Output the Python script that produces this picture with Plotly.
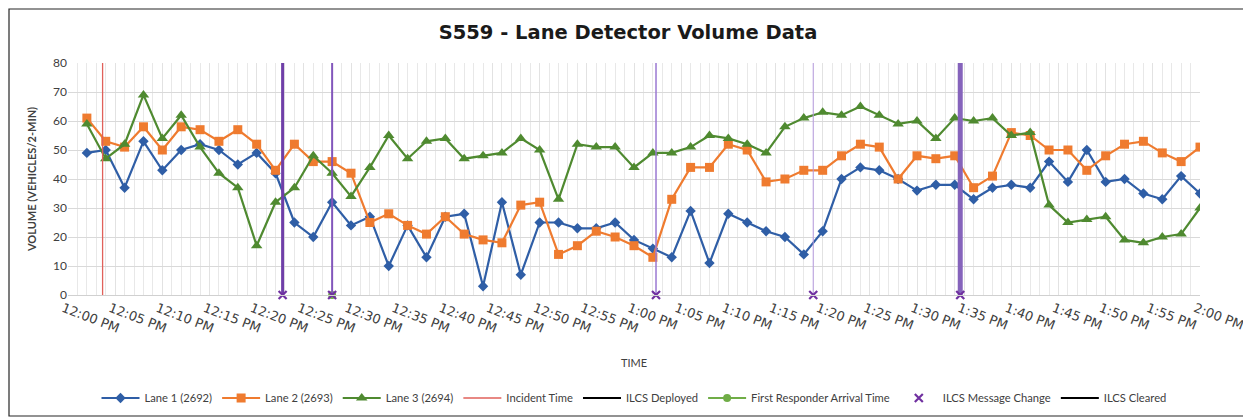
import plotly.graph_objects as go

# ---------------- data ----------------
DAY = "2020-01-01 "
TIMES = ["12:02", "12:04", "12:06", "12:08", "12:10", "12:12", "12:14", "12:16", "12:18", "12:20",
         "12:22", "12:24", "12:26", "12:28", "12:30", "12:32", "12:34", "12:36", "12:38", "12:40",
         "12:42", "12:44", "12:46", "12:48", "12:50", "12:52", "12:54", "12:56", "12:58", "13:00",
         "13:02", "13:04", "13:06", "13:08", "13:10", "13:12", "13:14", "13:16", "13:18", "13:20",
         "13:22", "13:24", "13:26", "13:28", "13:30", "13:32", "13:34", "13:36", "13:38", "13:40",
         "13:42", "13:44", "13:46", "13:48", "13:50", "13:52", "13:54", "13:56", "13:58", "14:00"]

LANE1 = [49, 50, 37, 53, 43, 50, 52, 50, 45, 49, 42, 25, 20, 32,
         24, 27, 10, 24, 13, 27, 28, 3, 32, 7, 25, 25, 23, 23, 25, 19, 16,
         13, 29, 11, 28, 25, 22, 20, 14, 22, 40, 44, 43, 40, 36, 38, 38, 33,
         37, 38, 37, 46, 39, 50, 39, 40, 35, 33, 41, 35]
LANE2 = [61, 53, 51, 58, 50, 58, 57, 53, 57, 52, 43, 52, 46, 46,
         42, 25, 28, 24, 21, 27, 21, 19, 18, 31, 32, 14, 17, 22, 20, 17, 13,
         33, 44, 44, 52, 50, 39, 40, 43, 43, 48, 52, 51, 40, 48, 47, 48, 37,
         41, 56, 55, 50, 50, 43, 48, 52, 53, 49, 46, 51]
LANE3 = [59, 47, 52, 69, 54, 62, 51, 42, 37, 17, 32, 37, 48, 42,
         34, 44, 55, 47, 53, 54, 47, 48, 49, 54, 50, 33, 52, 51, 51, 44, 49,
         49, 51, 55, 54, 52, 49, 58, 61, 63, 62, 65, 62, 59, 60, 54, 61, 60,
         61, 55, 56, 31, 25, 26, 27, 19, 18, 20, 21, 30]

INCIDENT_TIME = "12:03:40"
FIRST_RESPONDER_TIME = "12:28:00"
MSG_CHANGE_TIMES = ["12:22:45", "12:28:00", "13:02:20", "13:19:00", "13:34:35"]

TICK_TIMES = ["12:00", "12:05", "12:10", "12:15", "12:20", "12:25", "12:30", "12:35", "12:40",
              "12:45", "12:50", "12:55", "13:00", "13:05", "13:10", "13:15", "13:20", "13:25",
              "13:30", "13:35", "13:40", "13:45", "13:50", "13:55", "14:00"]
TICK_TEXT = ["12:00 PM", "12:05 PM", "12:10 PM", "12:15 PM", "12:20 PM", "12:25 PM", "12:30 PM",
             "12:35 PM", "12:40 PM", "12:45 PM", "12:50 PM", "12:55 PM", "1:00 PM", "1:05 PM",
             "1:10 PM", "1:15 PM", "1:20 PM", "1:25 PM", "1:30 PM", "1:35 PM", "1:40 PM",
             "1:45 PM", "1:50 PM", "1:55 PM", "2:00 PM"]

# ---------------- styles ----------------
FONT = "Lato"
BLUE, ORANGE, GREEN = "#2f5ea6", "#ef7b2f", "#4f8a30"
MSG_STYLE = [("#6f3fa8", 3), ("#8256bb", 2), ("#9a78d2", 1.5), ("#b89be0", 1), ("#8563bb", 5)]

# page body has an 8px margin -> figure is 8px smaller so it fits the window
W, H = 1243, 411
PL, PT, PR, PB = 60, 55, 51, 124   # plot area: x 68..1200, y 63..295 in window pixels
PW, PH = W - PL - PR, H - PT - PB


def ts(t):
    return DAY + t


x = [ts(t) for t in TIMES]
fig = go.Figure()

fig.add_trace(go.Scatter(x=x, y=LANE1, name="Lane 1 (2692)", mode="lines+markers",
                         line=dict(color=BLUE, width=2.2),
                         marker=dict(symbol="diamond", size=8, color=BLUE)))
fig.add_trace(go.Scatter(x=x, y=LANE2, name="Lane 2 (2693)", mode="lines+markers",
                         line=dict(color=ORANGE, width=2.2),
                         marker=dict(symbol="square", size=9, color=ORANGE)))
fig.add_trace(go.Scatter(x=x, y=LANE3, name="Lane 3 (2694)", mode="lines+markers",
                         line=dict(color=GREEN, width=2.2),
                         marker=dict(symbol="triangle-up", size=10, color=GREEN)))

fig.add_trace(go.Scatter(x=[ts(INCIDENT_TIME)] * 2, y=[0, 80], name="Incident Time", mode="lines",
                         line=dict(color="#e0605a", width=1.3)))
fig.add_trace(go.Scatter(x=[None], y=[None], name="ILCS Deployed", mode="lines",
                         line=dict(color="#000000", width=2)))
fig.add_trace(go.Scatter(x=[ts(FIRST_RESPONDER_TIME)], y=[0], name="First Responder Arrival Time",
                         mode="lines+markers", cliponaxis=False,
                         line=dict(color="#70ad47", width=2),
                         marker=dict(symbol="circle", size=8, color="#70ad47")))

for t, (c, w) in zip(MSG_CHANGE_TIMES, MSG_STYLE):
    fig.add_trace(go.Scatter(x=[ts(t)] * 2, y=[0, 80], mode="lines", showlegend=False,
                             hoverinfo="skip", line=dict(color=c, width=w)))

fig.add_trace(go.Scatter(x=[ts(t) for t in MSG_CHANGE_TIMES], y=[0] * len(MSG_CHANGE_TIMES),
                         name="ILCS Message Change", mode="markers", cliponaxis=False,
                         marker=dict(symbol="x-thin", size=8, color="#7030a0",
                                     line=dict(width=2.2, color="#7030a0"))))
fig.add_trace(go.Scatter(x=[None], y=[None], name="ILCS Cleared", mode="lines",
                         line=dict(color="#000000", width=2)))

fig.update_layout(
    width=W, height=H,
    margin=dict(l=PL, r=PR, t=PT, b=PB, autoexpand=False),
    paper_bgcolor="white", plot_bgcolor="white",
    font=dict(family=FONT, color="#404040"),
    title=dict(text="<b>S559 - Lane Detector Volume Data</b>", x=(628 - 8) / W, xanchor="center",
               y=1 - (32 - 8) / H, yanchor="middle", yref="container",
               font=dict(family="DejaVu Sans", size=19.5, color="#1a1a1a")),
    showlegend=True,
    legend=dict(orientation="h", x=(634 - 68) / PW, xanchor="center", y=-(398 - 295) / PH,
                yanchor="middle", font=dict(family=FONT, size=11.2, color="#404040"),
                itemwidth=38, bgcolor="rgba(0,0,0,0)"),
    shapes=[dict(type="rect", xref="paper", yref="paper",
                 x0=-(68 - 9) / PW, x1=(1246 - 68) / PW, y0=-(416 - 295) / PH, y1=(295 - 9) / PH,
                 line=dict(color="#262626", width=1.2), fillcolor="rgba(0,0,0,0)", layer="below")],
)

fig.update_xaxes(
    type="date", range=[ts("12:00"), ts("14:00")], automargin=False,
    tickvals=[ts(t) for t in TICK_TIMES], ticktext=TICK_TEXT, tickangle=21, ticklabelshift=-5,
    tickfont=dict(family="DejaVu Sans", size=13, color="#404040"),
    showgrid=True, gridcolor="#e2e2e2", gridwidth=1,
    minor=dict(dtick=60000, showgrid=True, gridcolor="#e8e8e8", gridwidth=1),
    showline=True, linecolor="#d0d0d0", ticks="", zeroline=False,
    title=dict(text="TIME", standoff=24, font=dict(family=FONT, size=11, color="#404040")),
)
fig.update_yaxes(
    range=[0, 80], dtick=10, showgrid=True, gridcolor="#d9d9d9", gridwidth=1,
    zeroline=False, showline=False, ticks="", automargin=False,
    tickfont=dict(family=FONT, size=12, color="#404040"),
    title=dict(text="<b>VOLUME (VEHICLES/2-MIN)</b>", standoff=14,
               font=dict(family=FONT, size=11, color="#404040")),
)

fig.write_html("out.html")
